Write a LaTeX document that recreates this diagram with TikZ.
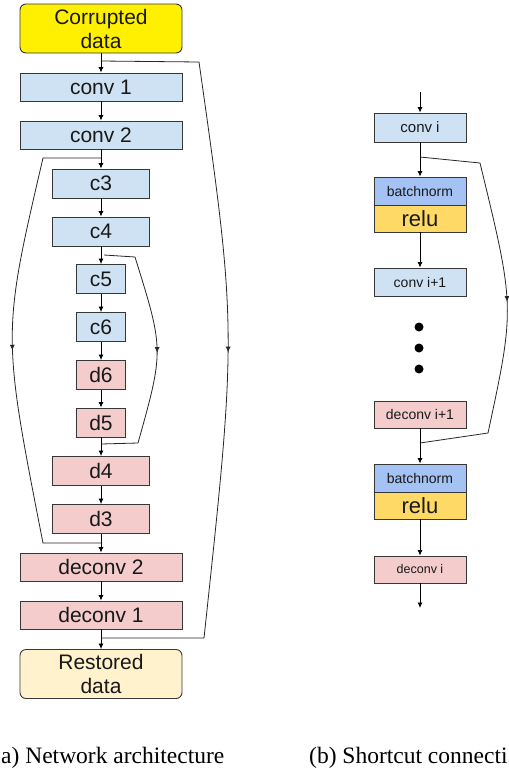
\documentclass[tikz,border=0pt]{standalone}
\usepackage{fontspec}
\setmainfont{Liberation Serif}
\setsansfont{Liberation Sans}
\usepackage{xcolor}
\usepackage{tikz}
\usetikzlibrary{arrows.meta, decorations.markings}
\definecolor{myblue}{RGB}{207,226,243}
\definecolor{myred}{RGB}{244,204,204}
\definecolor{myyellow}{RGB}{255,240,0}
\definecolor{mycream}{RGB}{255,242,204}
\definecolor{mybnorm}{RGB}{164,194,244}
\definecolor{myrelu}{RGB}{255,217,102}
\definecolor{mydark}{RGB}{55,55,55}
\tikzset{
  layer/.style={rectangle, draw=mydark, line width=0.9pt, inner sep=0pt,
    font=\sffamily\fontsize{21}{21}\selectfont, text=black!90},
  convblock/.style={layer, fill=myblue},
  deconvblock/.style={layer, fill=myred},
  datablock/.style={layer, rounded corners=6pt, minimum width=162pt,
    minimum height=49pt, align=center, font=\sffamily\fontsize{21}{24}\selectfont},
  wideblock/.style={minimum width=162pt, minimum height=28pt},
  midblock/.style={minimum width=97pt, minimum height=29pt},
  narrowblock/.style={minimum width=49pt, minimum height=29pt},
  rightblock/.style={minimum width=92pt, minimum height=28pt},
  arrow/.style={-{Latex[length=5.5pt,width=5pt]}, line width=0.8pt, color=black},
  line/.style={line width=0.8pt, color=black!85},
  midarrow/.style={line, postaction={decorate}, decoration={markings,
    mark=at position 0.5 with {\arrow{Latex[length=5.5pt,width=5pt]}}}},
  caption/.style={inner sep=0pt, font=\fontsize{23.5}{24}\selectfont}
}

\begin{document}
\begin{tikzpicture}[x=1pt, y=-1pt]
  \useasboundingbox (0,0) rectangle (509,769);

  % (a) network: encoder
  \node[datablock, fill=myyellow] (corrupt) at (101,28.5) {Corrupted\\data};
  \node[convblock, wideblock] (conv1) at (101,87) {conv 1};
  \node[convblock, wideblock] (conv2) at (101,135) {conv 2};
  \node[convblock, midblock] (c3) at (101,183.5) {c3};
  \node[convblock, midblock] (c4) at (101,231.5) {c4};
  \node[convblock, narrowblock] (c5) at (101,279) {c5};
  \node[convblock, narrowblock] (c6) at (101,327) {c6};

  % (a) network: decoder
  \node[deconvblock, narrowblock] (d6) at (101,375) {d6};
  \node[deconvblock, narrowblock] (d5) at (101,422.5) {d5};
  \node[deconvblock, midblock] (d4) at (101,471) {d4};
  \node[deconvblock, midblock] (d3) at (101,519) {d3};
  \node[deconvblock, wideblock] (deconv2) at (101,567) {deconv 2};
  \node[deconvblock, wideblock] (deconv1) at (101,615) {deconv 1};
  \node[datablock, fill=mycream] (restored) at (101,674) {Restored\\data};

  % main chain
  \draw[arrow] (corrupt) -- (conv1);
  \draw[arrow] (conv1) -- (conv2);
  \draw[arrow] (conv2) -- (c3);
  \draw[arrow] (c3) -- (c4);
  \draw[arrow] (c4) -- (c5);
  \draw[arrow] (c5) -- (c6);
  \draw[arrow] (c6) -- (d6);
  \draw[arrow] (d6) -- (d5);
  \draw[arrow] (d5) -- (d4);
  \draw[arrow] (d4) -- (d3);
  \draw[arrow] (d3) -- (deconv2);
  \draw[arrow] (deconv2) -- (deconv1);
  \draw[arrow] (deconv1) -- (restored);

  % skip connections
  \coordinate (s1a) at (101,61);
  \coordinate (s1b) at (101,638);
  \coordinate (s2a) at (101,158);
  \coordinate (s2b) at (101,543);
  \coordinate (s3a) at (104,255);
  \coordinate (s3b) at (101,444);
  \draw[midarrow] (s1a) -- (199,62) .. controls (237,330) .. (204,638) -- (s1b);
  \draw[midarrow] (s2a) -- (43,158) .. controls (2,334) .. (43,543) -- (s2b);
  \draw[midarrow] (s3a) -- (135,257) .. controls (164,350) .. (138,443) -- (s3b);

  % (b) shortcut block
  \node[convblock, rightblock, minimum height=29pt, font=\sffamily\fontsize{15}{15}\selectfont] (convi) at (420,127.5) {conv i};
  \node[layer, rightblock, fill=mybnorm, font=\sffamily\fontsize{14}{14}\selectfont] (bn1) at (420,191) {batchnorm};
  \node[layer, rightblock, minimum height=27pt, fill=myrelu, font=\sffamily\fontsize{22}{22}\selectfont] (relu1) at (420,218.5) {relu};
  \node[convblock, rightblock, font=\sffamily\fontsize{14}{14}\selectfont] (convii) at (420,282) {conv i+1};
  \node[deconvblock, rightblock, minimum height=27pt, font=\sffamily\fontsize{14}{14}\selectfont] (deconvii) at (420,414.5) {deconv i+1};
  \node[layer, rightblock, fill=mybnorm, font=\sffamily\fontsize{14}{14}\selectfont] (bn2) at (420,478) {batchnorm};
  \node[layer, rightblock, minimum height=27pt, fill=myrelu, font=\sffamily\fontsize{22}{22}\selectfont] (relu2) at (420,505.5) {relu};
  \node[deconvblock, rightblock, minimum height=27pt, font=\sffamily\fontsize{12.5}{12.5}\selectfont] (deconvi) at (420,569.5) {deconv i};

  \foreach \y in {327,348,369}
    \fill (419,\y) circle (4.5pt);

  \coordinate (in) at (420,92);
  \coordinate (out) at (420,608);
  \draw[arrow] (in) -- (convi);
  \draw[arrow] (convi) -- (bn1);
  \draw[arrow] (relu1) -- (convii);
  \draw[arrow] (deconvii) -- (bn2);
  \draw[arrow] (relu2) -- (deconvi);
  \draw[arrow] (deconvi) -- (out);

  \coordinate (r1a) at (420,157);
  \coordinate (r1b) at (420,443);
  \draw[midarrow] (r1a) -- (480,163) .. controls (515,307) .. (488,433) -- (r1b);

  % captions
  \node[caption, anchor=base west] (capa) at (1,763) {a) Network architecture};
  \node[caption, anchor=base west] (capb) at (309,763) {(b) Shortcut connecti};
\end{tikzpicture}
\end{document}
